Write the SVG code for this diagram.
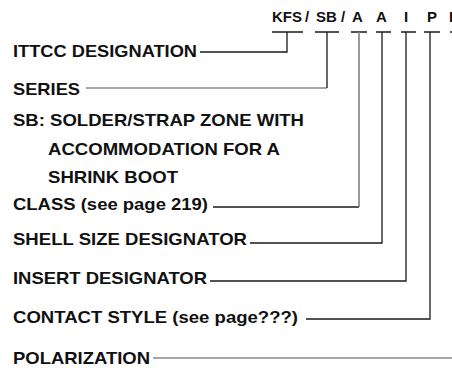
<svg xmlns="http://www.w3.org/2000/svg" width="452" height="370" viewBox="0 0 452 370">
<style>
text{font-family:"Liberation Sans",Arial,sans-serif;font-weight:700;fill:#111}
.t{font-size:17px}
.h{font-size:15px;text-anchor:middle}
.d{stroke:#1a1a1a;stroke-width:1.3;fill:none}
.g{stroke:#888;stroke-width:1.7;fill:none}
</style>
<rect width="452" height="370" fill="#fff"/>
<g id="code">
<text class="h" x="287" y="22">KFS</text>
<text class="h" x="307" y="22">/</text>
<text class="h" x="326.5" y="22">SB</text>
<text class="h" x="343" y="22">/</text>
<text class="h" x="357.5" y="22">A</text>
<text class="h" x="381.5" y="22">A</text>
<text class="h" x="406" y="22">I</text>
<text class="h" x="432" y="22">P</text>
<text class="h" x="451" y="22">I</text>
</g>
<g id="ittcc"><text class="t" x="13" y="57" textLength="184" lengthAdjust="spacingAndGlyphs">ITTCC DESIGNATION</text></g>
<g id="series"><text class="t" x="13" y="95" textLength="67" lengthAdjust="spacingAndGlyphs">SERIES</text></g>
<g id="sb">
<text class="t" x="13" y="126" textLength="291" lengthAdjust="spacingAndGlyphs">SB: SOLDER/STRAP ZONE WITH</text>
<text class="t" x="48" y="155" textLength="232" lengthAdjust="spacingAndGlyphs">ACCOMMODATION FOR A</text>
<text class="t" x="48" y="183" textLength="130" lengthAdjust="spacingAndGlyphs">SHRINK BOOT</text>
</g>
<g id="class"><text class="t" x="13" y="210" textLength="195" lengthAdjust="spacingAndGlyphs">CLASS (see page 219)</text></g>
<g id="shell"><text class="t" x="13" y="245" textLength="234" lengthAdjust="spacingAndGlyphs">SHELL SIZE DESIGNATOR</text></g>
<g id="insert"><text class="t" x="13" y="284" textLength="194" lengthAdjust="spacingAndGlyphs">INSERT DESIGNATOR</text></g>
<g id="contact"><text class="t" x="13" y="323" textLength="285" lengthAdjust="spacingAndGlyphs">CONTACT STYLE (see page???)</text></g>
<g id="polarization"><text class="t" x="13" y="364" textLength="137" lengthAdjust="spacingAndGlyphs">POLARIZATION</text></g>
<g id="connectors">
<path class="d" d="M272 32H303M315 32H339M351 32H367M376 32H391M401 32H416M424 32H440M450 32H452"/>
<path class="d" d="M200 52H287V32"/>
<path class="g" d="M86 88H327"/>
<path class="d" d="M327 88V32"/>
<path class="d" d="M213 207H359"/>
<path class="g" d="M359 207V32"/>
<path class="d" d="M250 243H382V32"/>
<path class="d" d="M210 281H406V32"/>
<path class="d" d="M306 319H430V32"/>
<path class="g" d="M153 358H452"/>
</g>
</svg>
